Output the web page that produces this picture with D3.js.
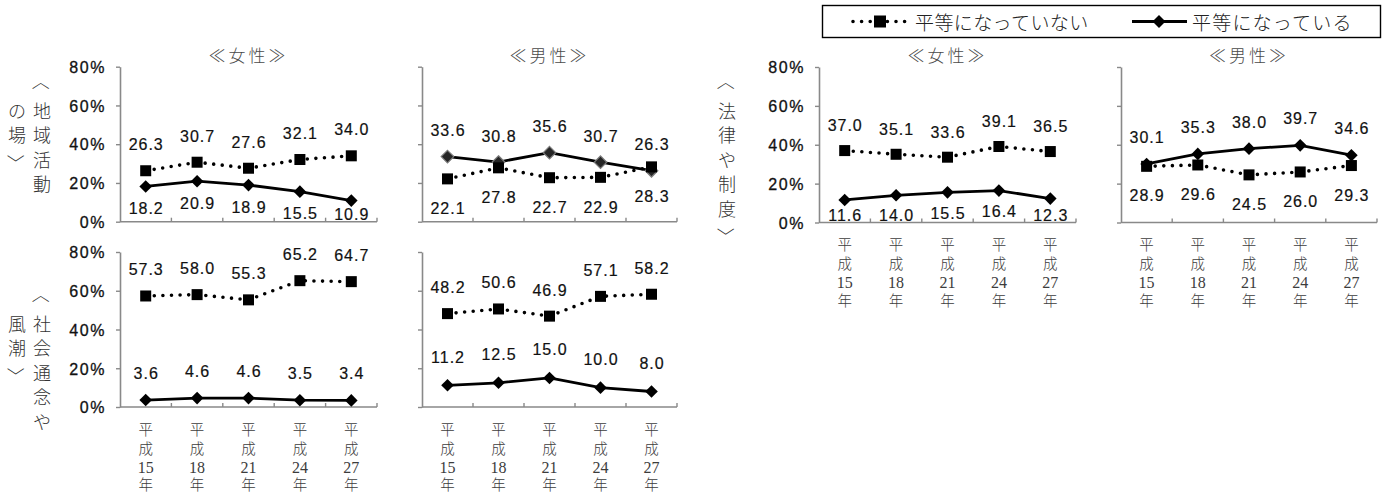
<!DOCTYPE html>
<html lang="ja">
<head>
<meta charset="utf-8">
<script src="https://cdn.jsdelivr.net/npm/d3@7"></script>
<style>
  html, body { margin: 0; padding: 0; background: #fff; }
  svg { display: block; }
  .num { font-family: "Liberation Sans", Arial, sans-serif; }
  .jp { font-family: "Noto Sans CJK JP", "Noto Sans", sans-serif; }
</style>
</head>
<body>
<svg id="chart" width="1387" height="495"></svg>
<script>
// 調査年度（平成）
const years = ["15", "18", "21", "24", "27"];
const yTicks = [0, 20, 40, 60, 80];
const seriesNames = ["平等になっていない", "平等になっている"];

// 地域活動の場
const chiikiFemaleNotEqual = [26.3, 30.7, 27.6, 32.1, 34.0];
const chiikiFemaleEqual    = [18.2, 20.9, 18.9, 15.5, 10.9];
const chiikiMaleNotEqual   = [22.1, 27.8, 22.7, 22.9, 28.3];
const chiikiMaleEqual      = [33.6, 30.8, 35.6, 30.7, 26.3];

// 法律や制度
const houritsuFemaleNotEqual = [37.0, 35.1, 33.6, 39.1, 36.5];
const houritsuFemaleEqual    = [11.6, 14.0, 15.5, 16.4, 12.3];
const houritsuMaleNotEqual   = [28.9, 29.6, 24.5, 26.0, 29.3];
const houritsuMaleEqual      = [30.1, 35.3, 38.0, 39.7, 34.6];

// 社会通念や風潮
const shakaiFemaleNotEqual = [57.3, 58.0, 55.3, 65.2, 64.7];
const shakaiFemaleEqual    = [3.6, 4.6, 4.6, 3.5, 3.4];
const shakaiMaleNotEqual   = [48.2, 50.6, 46.9, 57.1, 58.2];
const shakaiMaleEqual      = [11.2, 12.5, 15.0, 10.0, 8.0];

const svg = d3.select("#chart");

// panel layout: plot box, title and where each series puts its value labels
const panels = [
  { x0: 120, x1: 377, yTop: 66.7, yBase: 221.7, title: "≪女性≫", yLabels: true,  xLabels: false,
    ne: chiikiFemaleNotEqual, eq: chiikiFemaleEqual, neOff: -26, eqOff: 22 },
  { x0: 422, x1: 677, yTop: 66.7, yBase: 221.7, title: "≪男性≫", yLabels: false, xLabels: false,
    ne: chiikiMaleNotEqual, eq: chiikiMaleEqual, neOff: 30, eqOff: -26, greyDiamond: true },
  { x0: 819, x1: 1076, yTop: 67, yBase: 222.5, title: "≪女性≫", yLabels: true,  xLabels: true,
    ne: houritsuFemaleNotEqual, eq: houritsuFemaleEqual, neOff: -25, eqOff: 21 },
  { x0: 1121, x1: 1377, yTop: 67, yBase: 222.5, title: "≪男性≫", yLabels: false, xLabels: true,
    ne: houritsuMaleNotEqual, eq: houritsuMaleEqual, neOff: 29.5, eqOff: -26.5 },
  { x0: 120, x1: 377, yTop: 252, yBase: 407, title: null, yLabels: true,  xLabels: true,
    ne: shakaiFemaleNotEqual, eq: shakaiFemaleEqual, neOff: -26, eqOff: -27 },
  { x0: 422, x1: 677, yTop: 252, yBase: 407, title: null, yLabels: false, xLabels: true,
    ne: shakaiMaleNotEqual, eq: shakaiMaleEqual, neOff: -26, eqOff: -28 }
];

const axisColor = "#898989";

function diamondPath(r) {
  return `M0,${-r}L${r},0L0,${r}L${-r},0Z`;
}

panels.forEach(p => {
  const g = svg.append("g");
  const x = d3.scaleBand().domain(years).range([p.x0, p.x1]).paddingInner(0).paddingOuter(0);
  const cx = d => x(d) + x.bandwidth() / 2;
  const y = d3.scaleLinear().domain([0, 80]).range([p.yBase, p.yTop]);

  // y axis
  const yAxis = d3.axisLeft(y).tickValues(yTicks).tickSize(4).tickSizeOuter(0).tickPadding(10)
    .tickFormat(d => p.yLabels ? d + "%" : "");
  const ya = g.append("g").attr("transform", `translate(${p.x0},0)`).call(yAxis);
  ya.select(".domain").attr("stroke", axisColor).attr("stroke-width", 1.6);
  ya.selectAll(".tick line").attr("stroke", axisColor).attr("stroke-width", 1.4);
  ya.selectAll(".tick text")
    .attr("class", "num")
    .attr("font-size", 16)
    .attr("letter-spacing", 1.6)
    .attr("fill", "#111")
    .attr("stroke", "#111").attr("stroke-width", 0.3)
    .attr("dy", "0.36em");

  // x baseline with category boundary ticks
  g.append("line")
    .attr("x1", p.x0).attr("x2", p.x1)
    .attr("y1", p.yBase).attr("y2", p.yBase)
    .attr("stroke", axisColor).attr("stroke-width", 1.6);
  const bounds = years.map(d => x(d) + x.bandwidth());
  g.selectAll(".xt").data(bounds).join("line")
    .attr("x1", d => d).attr("x2", d => d)
    .attr("y1", p.yBase).attr("y2", p.yBase - 4)
    .attr("stroke", axisColor).attr("stroke-width", 1.4);

  // title
  if (p.title) {
    g.append("text").attr("class", "jp")
      .attr("x", (p.x0 + p.x1) / 2).attr("y", 54)
      .attr("text-anchor", "middle").attr("dominant-baseline", "central")
      .attr("font-size", 17).attr("letter-spacing", 3).attr("font-weight", 300)
      .attr("fill", "#4a4a4a")
      .text(p.title);
  }

  // x labels: 平 / 成 / nn / 年 stacked vertically
  if (p.xLabels) {
    const rows = [
      { t: () => "平", dy: 21, jp: true },
      { t: () => "成", dy: 40, jp: true },
      { t: d => d,     dy: 60, jp: false },
      { t: () => "年", dy: 76.5, jp: true }
    ];
    years.forEach(yr => {
      rows.forEach(r => {
        g.append("text")
          .attr("x", cx(yr)).attr("y", p.yBase + r.dy)
          .attr("text-anchor", "middle").attr("dominant-baseline", "central")
          .attr("font-family", r.jp ? "'Noto Sans CJK JP', sans-serif" : "'Liberation Serif', serif")
          .attr("font-size", r.jp ? 14.5 : 16)
          .attr("font-weight", r.jp ? 300 : 400)
          .attr("fill", "#3c3c3c")
          .text(r.t(yr));
      });
    });
  }

  const line = d3.line().x((d, i) => cx(years[i])).y(d => y(d));

  // 平等になっていない : dotted line with square markers
  g.append("path").datum(p.ne)
    .attr("d", line).attr("fill", "none")
    .attr("stroke", "#000").attr("stroke-width", 3.6)
    .attr("stroke-linecap", "round").attr("stroke-dasharray", "0 8.6");

  // 平等になっている : solid line with diamond markers
  g.append("path").datum(p.eq)
    .attr("d", line).attr("fill", "none")
    .attr("stroke", "#000").attr("stroke-width", 2.8);

  g.selectAll(".dia").data(p.eq).join("path")
    .attr("transform", (d, i) => `translate(${cx(years[i])},${y(d)})`)
    .attr("d", diamondPath(6.3))
    .attr("fill", p.greyDiamond ? "#262626" : "#000")
    .attr("stroke", p.greyDiamond ? "#7a7a7a" : "none")
    .attr("stroke-width", 1.2);

  g.selectAll(".sq").data(p.ne).join("rect")
    .attr("x", (d, i) => cx(years[i]) - 5.5).attr("y", d => y(d) - 5.5)
    .attr("width", 11).attr("height", 11)
    .attr("fill", "#000");

  // value labels
  const maxLabelY = p.yBase - 7;
  const addLabels = (vals, off) => {
    g.selectAll(null).data(vals).join("text")
      .attr("class", "num")
      .attr("x", (d, i) => cx(years[i]) + 0.5)
      .attr("y", d => Math.min(y(d) + off, maxLabelY))
      .attr("text-anchor", "middle").attr("dominant-baseline", "central")
      .attr("font-size", 16).attr("letter-spacing", 1.0)
      .attr("fill", "#111").attr("stroke", "#111").attr("stroke-width", 0.2)
      .text(d => d.toFixed(1));
  };
  addLabels(p.ne, p.neOff);
  addLabels(p.eq, p.eqOff);
});

// row labels written vertically, columns from right to left;
// "[" and "]" stand for the opening and closing angle brackets turned upright
const rowLabels = [
  { cols: [{ x: 42, start: 0, text: "[地域活動" }, { x: 17, start: 1, text: "の場]" }], y: 110 },
  { cols: [{ x: 42, start: 0, text: "[社会通念や" }, { x: 17, start: 1, text: "風潮]" }], y: 323 },
  { cols: [{ x: 727, start: 0, text: "[法律や制度]" }], y: 110 }
];
const rowStep = 24.4;
const labelFont = 18;
rowLabels.forEach(lbl => {
  lbl.cols.forEach(c => {
    Array.from(c.text).forEach((ch, i) => {
      const row = c.start + i - 1; // row 0 = first character after the opening bracket
      const cy = lbl.y + row * rowStep;
      const t = svg.append("text").attr("class", "jp")
        .attr("text-anchor", "middle").attr("dominant-baseline", "central")
        .attr("font-size", labelFont).attr("font-weight", 300)
        .attr("fill", "#333");
      if (ch === "[" || ch === "]") {
        // full-width bracket turned a quarter clockwise; its ink sits off-centre in the em box
        const shift = (ch === "[" ? -1 : 1) * labelFont * 0.25;
        t.attr("transform", `translate(${c.x},${cy + shift}) rotate(90)`)
          .text(ch === "[" ? "〈" : "〉");
      } else {
        t.attr("x", c.x).attr("y", cy).text(ch);
      }
    });
  });
});

// legend
const lg = svg.append("g");
lg.append("rect").attr("x", 822.5).attr("y", 5.5).attr("width", 558).attr("height", 32)
  .attr("fill", "#fff").attr("stroke", "#000").attr("stroke-width", 1.4);
const ly = 21.5;
lg.append("line").attr("x1", 853).attr("x2", 906).attr("y1", ly).attr("y2", ly)
  .attr("stroke", "#000").attr("stroke-width", 3.6)
  .attr("stroke-linecap", "round").attr("stroke-dasharray", "0 8.6");
lg.append("rect").attr("x", 874).attr("y", ly - 6).attr("width", 12).attr("height", 12).attr("fill", "#000");
lg.append("text").attr("class", "jp").attr("x", 915).attr("y", ly)
  .attr("dominant-baseline", "central").attr("font-size", 19).attr("letter-spacing", 0.4)
  .attr("font-weight", 300).attr("fill", "#222").text(seriesNames[0]);
lg.append("line").attr("x1", 1132).attr("x2", 1187).attr("y1", ly).attr("y2", ly)
  .attr("stroke", "#000").attr("stroke-width", 2.8);
lg.append("path").attr("transform", `translate(1159,${ly})`).attr("d", diamondPath(6.5)).attr("fill", "#000");
lg.append("text").attr("class", "jp").attr("x", 1192).attr("y", ly)
  .attr("dominant-baseline", "central").attr("font-size", 19).attr("letter-spacing", 1.2)
  .attr("font-weight", 300).attr("fill", "#222").text(seriesNames[1]);
</script>
</body>
</html>
